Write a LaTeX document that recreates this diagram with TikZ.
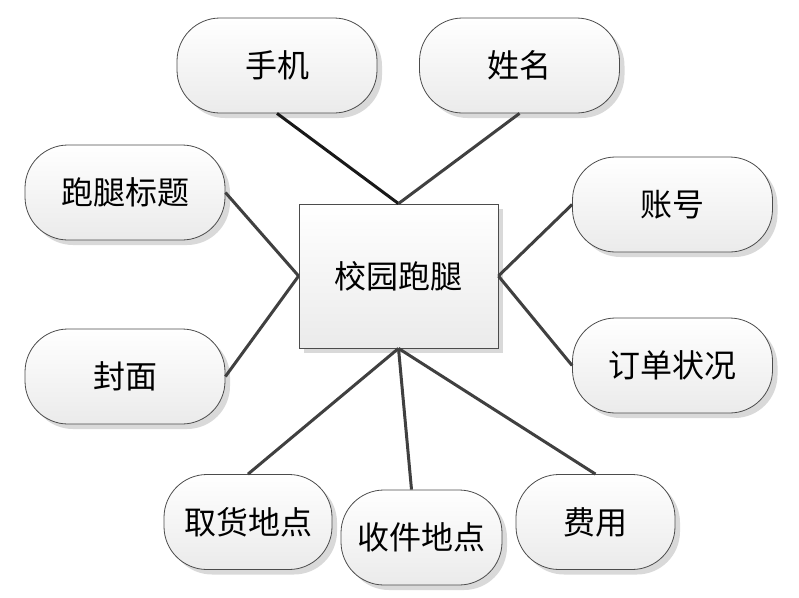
\documentclass[tikz,border=0pt]{standalone}
\usepackage{fontspec}
\newfontfamily\cjk{Noto Sans CJK SC}
\usetikzlibrary{shadows}
\tikzset{
  attr/.style={draw=black!70, line width=0.8pt, rounded corners=43pt, minimum height=95pt,
    minimum width=200pt, top color=white, bottom color=black!8,
    drop shadow={shadow xshift=5pt, shadow yshift=-5pt, fill=black!15, opacity=1},
    font=\cjk\fontsize{32}{34}\selectfont, inner sep=0pt},
  entity/.style={draw=black!70, line width=0.8pt, minimum width=199pt, minimum height=144pt,
    top color=white, bottom color=black!8,
    drop shadow={shadow xshift=5pt, shadow yshift=-5pt, fill=black!15, opacity=1},
    font=\cjk\fontsize{32}{34}\selectfont, inner sep=0pt},
  link/.style={draw=black!75, line width=3pt}
}
\begin{document}
\begin{tikzpicture}[x=1pt,y=-1pt]
\useasboundingbox (0,0) rectangle (799,597);
\node[entity] (e) at (398.5,276) {校园跑腿};
\node[attr] (a1) at (277,65.5) {手机};
\node[attr] (a2) at (519.5,65.5) {姓名};
\node[attr] (a3) at (125,192.5) {跑腿标题};
\node[attr] (a4) at (672.5,204.5) {账号};
\node[attr] (a5) at (125,376.5) {封面};
\node[attr] (a6) at (672.5,365.5) {订单状况};
\node[attr, minimum width=168pt] (a7) at (248,522) {取货地点};
\node[attr, minimum width=161pt] (a8) at (421.5,537.5) {收件地点};
\node[attr, minimum width=159pt] (a9) at (595.5,522) {费用};
\draw[link, draw=black!90] (a1.south) -- (e.north);
\draw[link] (a2.south) -- (e.north);
\draw[link] (a3.east) -- (e.west);
\draw[link] (a5.east) -- (e.west);
\draw[link] (a4.west) -- (e.east);
\draw[link] (a6.west) -- (e.east);
\draw[link] (e.south) -- (a7.north);
\draw[link] (e.south) -- ([xshift=-10pt]a8.north);
\draw[link] (e.south) -- (a9.north);
\end{tikzpicture}
\end{document}
